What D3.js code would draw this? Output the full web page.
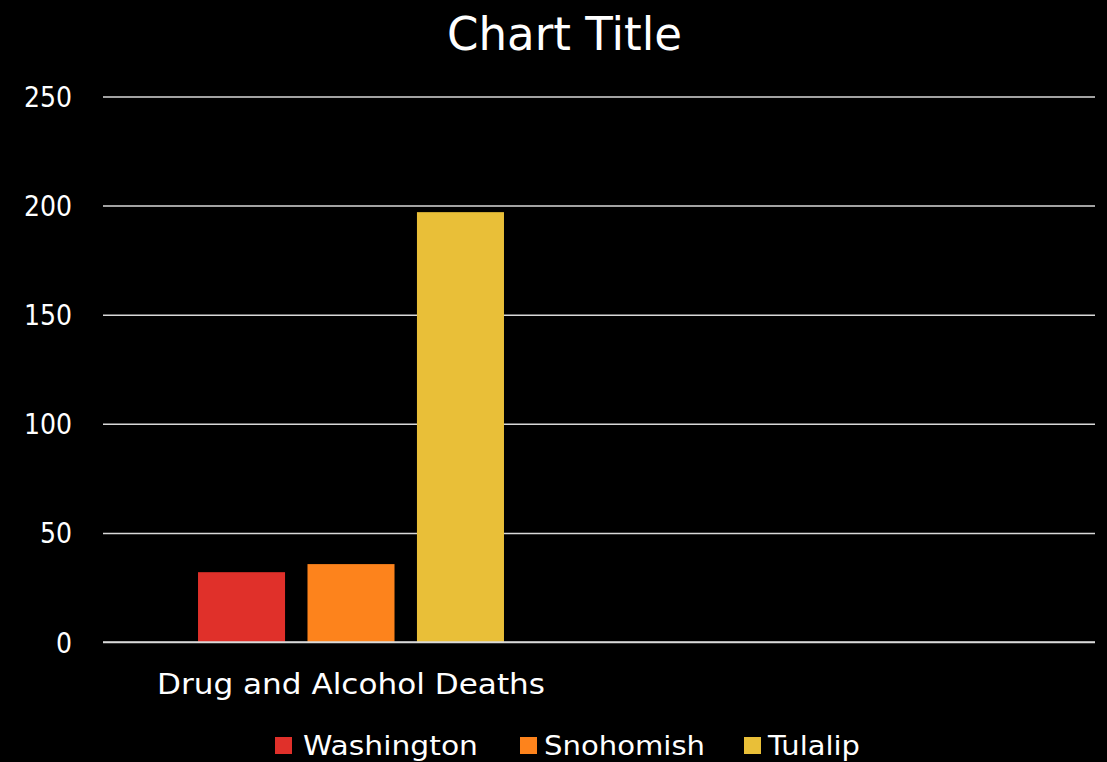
<!DOCTYPE html>
<html>
<head>
<meta charset="utf-8">
<script src="https://cdn.jsdelivr.net/npm/d3@7"></script>
<style>
html,body{margin:0;padding:0;background:#000;}
svg{display:block;}
text{font-family:"DejaVu Sans","Liberation Sans",sans-serif;fill:#fff;}
</style>
</head>
<body>
<svg id="chart" width="1107" height="762"></svg>
<script>
const categories = ["Drug and Alcohol Deaths", ""];
const seriesNames = ["Washington", "Snohomish", "Tulalip"];
const washington = [32, null];
const snohomish = [35.7, null];
const tulalip = [197, null];
const seriesColors = ["#e0302a", "#fd831c", "#e9bf38"];
const yTicks = [0, 50, 100, 150, 200, 250];
const titleText = "Chart Title";

const seriesValues = [washington, snohomish, tulalip];
const svg = d3.select("#chart");
const W = 1107, H = 762;
svg.append("rect").attr("width", W).attr("height", H).attr("fill", "#000");

const plot = {left: 103, right: 1095, top: 96.5, bottom: 642};
const x0 = d3.scaleBand().domain(categories.map((c,i)=>i)).range([plot.left, plot.right]).paddingInner(0).paddingOuter(0);
const x1 = d3.scaleBand().domain(seriesNames).range([0, x0.bandwidth()]).paddingInner(0.205).paddingOuter(0.868);
const y = d3.scaleLinear().domain([0, 250]).range([plot.bottom, plot.top]);

// gridlines + y labels
const yAxis = d3.axisLeft(y).tickValues(yTicks).tickSize(-(plot.right - plot.left)).tickPadding(31);
const gy = svg.append("g").attr("transform", `translate(${plot.left},0)`).call(yAxis);
gy.select(".domain").remove();
gy.selectAll(".tick line").attr("stroke", "#d9d9d9").attr("stroke-width", 1.5);
gy.selectAll(".tick text").attr("fill", "#fff").style("font-size", "28px")
  .style("font-family", '"DejaVu Sans",sans-serif').attr("dy", "0.36em")
  .attr("transform", "scale(0.9,1)").attr("x", -31 / 0.9);

// bars
const groups = svg.append("g").selectAll("g").data(categories.map((c,i)=>i)).join("g")
  .attr("transform", i => `translate(${x0(i)},0)`);
groups.selectAll("rect")
  .data(i => seriesNames.map((s, k) => ({s, k, v: seriesValues[k][i]})).filter(d => d.v != null))
  .join("rect")
  .attr("x", d => x1(d.s))
  .attr("width", x1.bandwidth())
  .attr("y", d => y(d.v))
  .attr("height", d => y(0) - y(d.v))
  .attr("fill", d => seriesColors[d.k]);

// baseline on top
svg.append("line").attr("x1", plot.left).attr("x2", plot.right).attr("y1", y(0)).attr("y2", y(0))
  .attr("stroke", "#d9d9d9").attr("stroke-width", 1.5);

// x axis labels
const xAxis = d3.axisBottom(x0).tickSize(0).tickPadding(0).tickFormat(i => categories[i]);
const gx = svg.append("g").attr("transform", `translate(0,${plot.bottom})`).call(xAxis);
gx.select(".domain").remove();
gx.selectAll(".tick text").attr("fill", "#fff").style("font-size", "29px")
  .style("font-family", '"DejaVu Sans",sans-serif')
  .attr("y", 52).attr("dy", 0)
  .each(function(i){ if (categories[i]) d3.select(this).attr("textLength", 388).attr("lengthAdjust", "spacingAndGlyphs"); });

// title
svg.append("text").attr("x", 564.5).attr("y", 50).attr("text-anchor", "middle")
  .style("font-size", "47px").attr("textLength", 235).attr("lengthAdjust", "spacingAndGlyphs")
  .text(titleText);

// legend
const legendX = [275, 520, 744];
const legendW = [175, 161, 92];
const lg = svg.append("g").selectAll("g").data(seriesNames).join("g")
  .attr("transform", (d, i) => `translate(${legendX[i]},737)`);
lg.append("rect").attr("width", 17).attr("height", 17).attr("fill", (d, i) => seriesColors[i]);
lg.append("text").attr("x", (d, i) => i === 0 ? 28 : 24).attr("y", 18).style("font-size", "27px")
  .attr("textLength", (d, i) => legendW[i]).attr("lengthAdjust", "spacingAndGlyphs").text(d => d);
</script>
</body>
</html>
